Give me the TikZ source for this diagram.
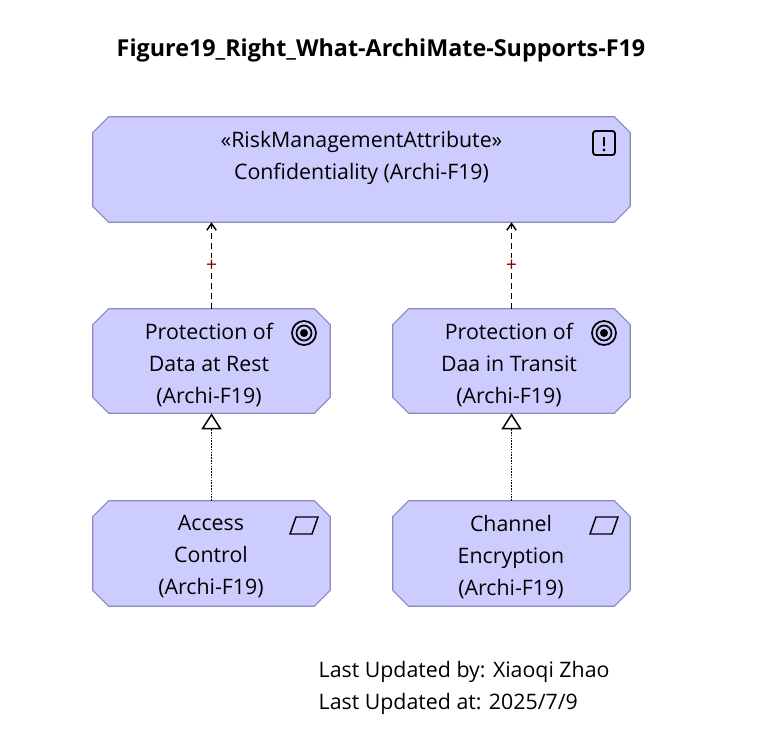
\documentclass[tikz,border=0pt]{standalone}
\usepackage{fontspec}
\setmainfont{Open Sans}
\usetikzlibrary{positioning, arrows.meta}
\definecolor{elemfill}{HTML}{CCCCFF}
\definecolor{elemdraw}{HTML}{8A8AC0}
\definecolor{plusred}{HTML}{800000}
\newcommand{\elemfont}{\fontsize{16}{24}\selectfont}
\newcommand{\octa}[1]{%
  \filldraw[fill=elemfill, draw=elemdraw, thick]
    ([xshift=12]#1.north west) -- ([xshift=-12]#1.north east) -- ([yshift=-12]#1.north east)
    -- ([yshift=12]#1.south east) -- ([xshift=-12]#1.south east) -- ([xshift=12]#1.south west)
    -- ([yshift=12]#1.south west) -- ([yshift=-12]#1.north west) -- cycle;}
\tikzset{
  elem/.style={rectangle, inner sep=0pt},
  lbl/.style={align=center, font=\elemfont},
  influence/.style={dash pattern=on 4pt off 3.5pt, line width=1.1pt, -{Straight Barb[length=5pt,width=7pt]}},
  realize/.style={densely dotted, line width=1.1pt, -{Triangle[open,fill=white,length=12pt,width=15pt]}}
}
\begin{document}
\begin{tikzpicture}[x=0.75pt,y=-0.75pt]
\useasboundingbox (0,0) rectangle (764,746);
\node[font=\fontsize{17.5}{20}\selectfont\bfseries] (title) at (381,50) {Figure19\_Right\_What-ArchiMate-Supports-F19};
% elements
\node[elem, minimum width=402.75pt, minimum height=78.75pt] (conf) at (361.5,169.5) {};
\node[elem, minimum width=177.75pt, minimum height=78pt] (rest) at (211.5,361) {};
\node[elem, minimum width=177.75pt, minimum height=78pt] (transit) at (511.5,361) {};
\node[elem, minimum width=177.75pt, minimum height=78.75pt] (access) at (211.5,553.5) {};
\node[elem, minimum width=177.75pt, minimum height=78.75pt] (channel) at (511.5,553.5) {};
\foreach \n in {conf,rest,transit,access,channel}{\octa{\n}}
\node[lbl] (conftext) at (361.5,158) {«RiskManagementAttribute»\\Confidentiality (Archi-F19)};
\node[lbl] (resttext) at (209,365) {Protection of\\Data at Rest\\(Archi-F19)};
\node[lbl] (transittext) at (509,365) {Protection of\\Daa in Transit\\(Archi-F19)};
\node[lbl] (accesstext) at (211,557) {Access\\Control\\(Archi-F19)};
\node[lbl] (channeltext) at (511,557) {Channel\\Encryption\\(Archi-F19)};
% icons
\draw[line width=1.4pt, rounded corners=2pt] (593,131) rectangle (615,155);
\fill (604,137) -- (603,146) -- (605,146) -- cycle;
\draw[line width=1.6pt] (604,137) -- (604,145);
\fill (604,150) circle (1.6);
\foreach \cx in {304,604}{
  \draw[line width=1.3pt] (\cx,333) circle (12);
  \draw[line width=1.3pt] (\cx,333) circle (7.5);
  \fill (\cx,333) circle (4);
}
\foreach \cx in {302,602}{
  \draw[line width=1.1pt] (\cx-12,534) -- (\cx-6,517) -- (\cx+16,517) -- (\cx+10,534) -- cycle;
}
% connectors
\draw[influence] (rest.north) -- node[text=plusred, font=\Large, fill=white, inner sep=1pt] {+} (rest.north |- conf.south);
\draw[influence] (transit.north) -- node[text=plusred, font=\Large, fill=white, inner sep=1pt] {+} (transit.north |- conf.south);
\draw[realize] (access.north) -- (rest.south);
\draw[realize] (channel.north) -- (transit.south);
% footer
\node[anchor=west, font=\elemfont] (upby) at (314,672) {Last Updated by: Xiaoqi Zhao};
\node[anchor=west, font=\elemfont] (upat) at (314,704) {Last Updated at: 2025/7/9};
\end{tikzpicture}
\end{document}
